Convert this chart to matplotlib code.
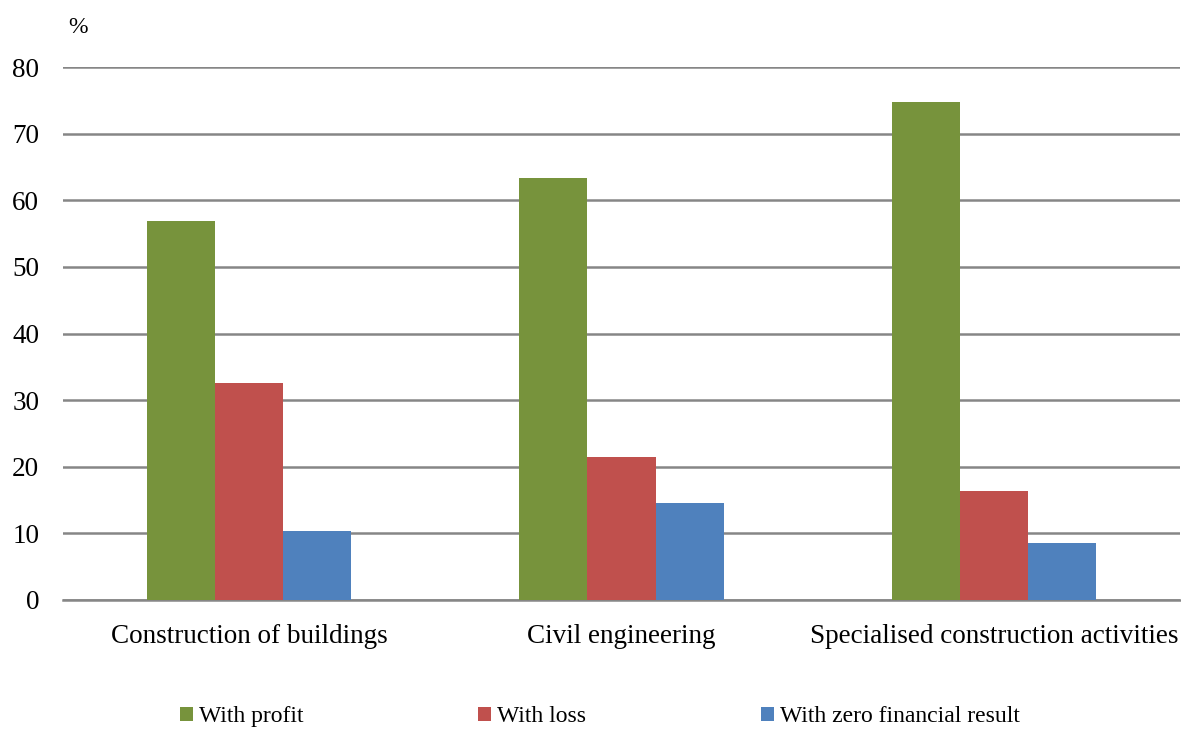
import numpy as np
import matplotlib.pyplot as plt
from matplotlib.patches import Patch

categorias = ['Construction of buildings', 'Civil engineering', 'Specialised construction activities']
series = ['With profit', 'With loss', 'With zero financial result']
con_ganancia = [56.9, 63.4, 74.8]
con_perdida = [32.6, 21.5, 16.4]
resultado_cero = [10.4, 14.6, 8.6]
colores = ['#77933C', '#C0504D', '#4F81BD']

plt.rcParams['font.family'] = ['Liberation Serif', 'DejaVu Serif']

fig = plt.figure(figsize=(11.81, 7.29), dpi=100)
ax = fig.add_axes([0.0533, 0.177, 0.946, 0.731])

x = np.arange(len(categorias))
ancho = 0.183
for i, (valores, color) in enumerate(zip([con_ganancia, con_perdida, resultado_cero], colores)):
    ax.bar(x + (i - 1) * ancho, valores, ancho, color=color, zorder=3)

ax.set_xlim(-0.5, 2.5)
ax.set_ylim(0, 80)
ax.set_yticks(np.arange(0, 81, 10))
ax.yaxis.grid(True, color='#868686', linewidth=1.8, zorder=0)
for s in ['top', 'right', 'left']:
    ax.spines[s].set_visible(False)
ax.spines['bottom'].set_color('#868686')
ax.spines['bottom'].set_linewidth(1.8)
ax.tick_params(axis='both', length=0, labelsize=19.5)
ax.tick_params(axis='y', pad=17)
ax.tick_params(axis='x', pad=17)
ax.set_xticks(x)
ax.set_xticklabels(categorias)

fig.text(0.058, 0.962, '%', fontsize=17, ha='left', va='center')

handles = [Patch(facecolor=c, edgecolor='none') for c in colores]
fig.legend(handles, series, loc='center', bbox_to_anchor=(0.508, 0.017), ncol=3,
           frameon=False, fontsize=17, handlelength=0.55, handleheight=0.55,
           handletextpad=0.25, columnspacing=7.4)

fig.savefig('out.png', dpi=100)
